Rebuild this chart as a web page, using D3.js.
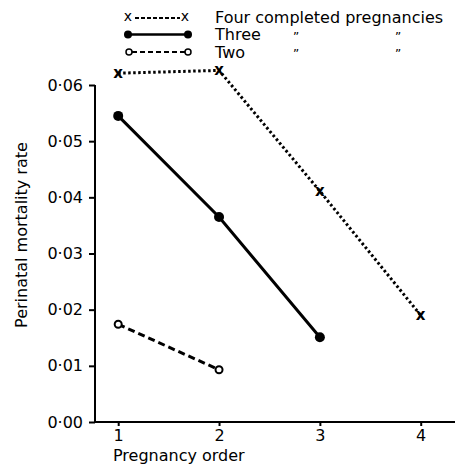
<!DOCTYPE html>
<html>
<head>
<meta charset="utf-8">
<script src="https://cdn.jsdelivr.net/npm/d3@7"></script>
<style>
    body { margin: 0; background: #fff; }
    svg { display: block; font-family: "DejaVu Sans", sans-serif; }
</style>
</head>
<body>
<svg id="chart" width="460" height="466"></svg>
<script>
// pregnancy order on the x axis
const orders = [1, 2, 3, 4];

// perinatal mortality rate by number of completed pregnancies
const fourRates = [0.0621, 0.0626, 0.0411, 0.0190];
const threeRates = [0.0545, 0.0365, 0.0151];
const twoRates = [0.0174, 0.0093];

const yTicks = [0, 0.01, 0.02, 0.03, 0.04, 0.05, 0.06];
const xTicks = [1, 2, 3, 4];

const legendLabels = ["Four completed pregnancies", "Three", "Two"];

const svg = d3.select("#chart");

const x = d3.scaleLinear().domain([0.77, 4.34]).range([95, 455]);
const y = d3.scaleLinear().domain([0, 0.06]).range([422, 85]);

const fmt = d => d3.format(".2f")(d).replace(".", "\u00B7");

// axes
const yAxis = svg.append("g")
    .attr("transform", `translate(${x.range()[0]},0)`)
    .call(d3.axisLeft(y).tickValues(yTicks).tickFormat(fmt).tickSize(6).tickPadding(6));

const xAxis = svg.append("g")
    .attr("transform", `translate(0,${y.range()[0]})`)
    .call(d3.axisBottom(x).tickValues(xTicks).tickFormat(d3.format("d")).tickSize(4).tickPadding(4));

[yAxis, xAxis].forEach(g => {
    g.select(".domain").attr("stroke", "#000").attr("stroke-width", 2);
    g.selectAll(".tick line").attr("stroke", "#000").attr("stroke-width", 2);
    g.selectAll(".tick text")
        .attr("fill", "#000")
        .style("font-size", "16px")
        .style("font-family", "DejaVu Sans, sans-serif");
});
// plain axis lines, no outer ticks
yAxis.select(".domain").attr("d", `M0,${y.range()[1]}V${y.range()[0]}`);
xAxis.select(".domain").attr("d", `M${x.range()[0]},0H${x.range()[1]}`);

svg.append("text")
    .attr("transform", `translate(21,${235}) rotate(-90)`)
    .attr("text-anchor", "middle")
    .attr("dy", "0.35em")
    .style("font-size", "16px")
    .text("Perinatal mortality rate");

svg.append("text")
    .attr("x", 113)
    .attr("y", 461)
    .style("font-size", "16px")
    .text("Pregnancy order");

// series
const line = d3.line()
    .x((d, i) => x(orders[i]))
    .y(d => y(d));

const plot = svg.append("g");

plot.append("path")
    .attr("d", line(fourRates))
    .attr("fill", "none")
    .attr("stroke", "#000")
    .attr("stroke-width", 3)
    .attr("stroke-dasharray", "2.5,2.5");

plot.append("path")
    .attr("d", line(threeRates))
    .attr("fill", "none")
    .attr("stroke", "#000")
    .attr("stroke-width", 3);

plot.append("path")
    .attr("d", line(twoRates))
    .attr("fill", "none")
    .attr("stroke", "#000")
    .attr("stroke-width", 3)
    .attr("stroke-dasharray", "7,4");

plot.selectAll(".four")
    .data(fourRates)
    .join("text")
    .attr("x", (d, i) => x(orders[i]))
    .attr("y", d => y(d))
    .attr("dy", "0.3em")
    .attr("text-anchor", "middle")
    .style("font-size", "15px")
    .style("font-weight", "bold")
    .text("x");

plot.selectAll(".three")
    .data(threeRates)
    .join("circle")
    .attr("cx", (d, i) => x(orders[i]))
    .attr("cy", d => y(d))
    .attr("r", 5)
    .attr("fill", "#000");

plot.selectAll(".two")
    .data(twoRates)
    .join("circle")
    .attr("cx", (d, i) => x(orders[i]))
    .attr("cy", d => y(d))
    .attr("r", 3.5)
    .attr("fill", "#fff")
    .attr("stroke", "#000")
    .attr("stroke-width", 2);

// legend
const legend = svg.append("g");
const rowY = [17, 34.5, 52];

legend.append("line")
    .attr("x1", 135).attr("x2", 180)
    .attr("y1", rowY[0] + 1).attr("y2", rowY[0] + 1)
    .attr("stroke", "#000").attr("stroke-width", 2)
    .attr("stroke-dasharray", "4,2");
legend.selectAll(".lx")
    .data([128, 185])
    .join("text")
    .attr("x", d => d).attr("y", rowY[0])
    .attr("dy", "0.3em")
    .attr("text-anchor", "middle")
    .style("font-size", "14px")
    .text("x");

legend.append("line")
    .attr("x1", 128).attr("x2", 188)
    .attr("y1", rowY[1]).attr("y2", rowY[1])
    .attr("stroke", "#000").attr("stroke-width", 2.5);
legend.selectAll(".ld")
    .data([128, 188])
    .join("circle")
    .attr("cx", d => d).attr("cy", rowY[1])
    .attr("r", 4)
    .attr("fill", "#000");

legend.append("line")
    .attr("x1", 132).attr("x2", 185)
    .attr("y1", rowY[2]).attr("y2", rowY[2])
    .attr("stroke", "#000").attr("stroke-width", 2)
    .attr("stroke-dasharray", "5,3");
legend.selectAll(".lo")
    .data([129, 188])
    .join("circle")
    .attr("cx", d => d).attr("cy", rowY[2])
    .attr("r", 3)
    .attr("fill", "#fff")
    .attr("stroke", "#000").attr("stroke-width", 1.5);

legend.selectAll(".lt")
    .data(legendLabels)
    .join("text")
    .attr("x", 215)
    .attr("y", (d, i) => rowY[i])
    .attr("dy", "0.35em")
    .style("font-size", "16px")
    .text(d => d);

legend.selectAll(".ditto")
    .data([[296, rowY[1]], [398, rowY[1]], [296, rowY[2]], [398, rowY[2]]])
    .join("text")
    .attr("x", d => d[0])
    .attr("y", d => d[1] + 6)
    .attr("text-anchor", "middle")
    .style("font-size", "12px")
    .text("\u201D");
</script>
</body>
</html>
